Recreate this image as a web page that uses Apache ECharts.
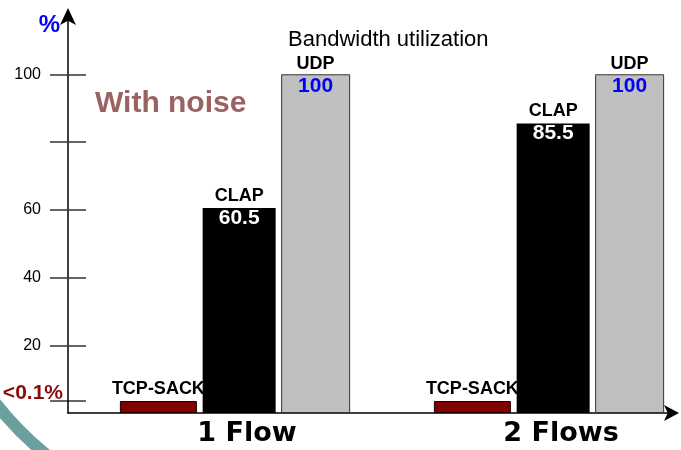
<!DOCTYPE html>
<html>
<head>
<meta charset="utf-8">
<script src="https://cdn.jsdelivr.net/npm/echarts@6/dist/echarts.min.js"></script>
<style>
  html, body { margin: 0; padding: 0; background: #fff; }
  #chart { width: 681px; height: 450px; }
</style>
</head>
<body>
<div id="chart"></div>
<script>
// Bandwidth utilization (%) per protocol, one and two flows
const flows = ['1 Flow', '2 Flows'];
const tcpSack = [0.1, 0.1];
const clap = [60.5, 85.5];
const udp = [100, 100];

// y axis ticks / labels
const yTicks = [20, 40, 60, 80, 100];
const yLabels = [20, 40, 60, 100];
const tcpNote = '<0.1%';
const yMax = 117.5;

const FONT = 'Liberation Sans, Arial, sans-serif';
const TCP_MIN_PX = 12;

const chart = echarts.init(document.getElementById('chart'), null, { renderer: 'canvas' });

// axes frame and bar area (bar area is wider so the two groups sit where they belong)
const gridAxes = { left: 68, right: 9, top: 15, bottom: 37, outerBoundsMode: 'none' };
const gridBars = { left: 78, width: 628, top: 15, bottom: 37, outerBoundsMode: 'none' };

const nameLabel = {
  fontSize: 18, fontWeight: 'bold', color: '#000', fontFamily: FONT, lineHeight: 22
};

const option = {
  backgroundColor: '#fff',
  animation: false,
  title: [
    {
      text: 'Bandwidth utilization',
      left: 288, top: 29, padding: 0,
      textStyle: { fontSize: 22, fontWeight: 'normal', color: '#000', fontFamily: FONT }
    },
    {
      text: 'With noise',
      left: 95, top: 89, padding: 0,
      textStyle: { fontSize: 30, fontWeight: 'bold', color: '#9b6262', fontFamily: FONT }
    }
  ],
  grid: [gridAxes, gridBars],
  xAxis: [
    {
      gridIndex: 0, type: 'value', min: 0, max: 1,
      axisLine: {
        show: true, lineStyle: { color: '#000', width: 1.5 },
        symbol: ['none', 'arrow'], symbolSize: [12, 15], symbolOffset: [0, 7]
      },
      axisTick: { show: false }, axisLabel: { show: false }, splitLine: { show: false }
    },
    {
      gridIndex: 1, type: 'category', data: flows,
      axisLine: { show: false }, axisTick: { show: false }, splitLine: { show: false },
      axisLabel: {
        fontSize: 27, fontWeight: 'bold', color: '#000', fontFamily: 'DejaVu Sans, sans-serif',
        margin: 7, padding: [0, 0, 0, 24]
      }
    }
  ],
  yAxis: [
    {
      gridIndex: 0, type: 'value', min: 0, max: yMax,
      name: '%', nameLocation: 'end', nameGap: -22,
      nameTextStyle: { color: '#0000ff', fontSize: 24, fontWeight: 'bold', fontFamily: FONT, align: 'right', padding: [0, 8, 0, 0] },
      axisLine: {
        show: true, lineStyle: { color: '#000', width: 1.5 },
        symbol: ['none', 'arrow'], symbolSize: [12, 17], symbolOffset: [0, 7]
      },
      axisTick: { show: true, inside: false, length: 18, customValues: yTicks, lineStyle: { color: '#333', width: 1.5 } },
      axisLabel: { show: true, customValues: yLabels, margin: 27, fontSize: 16, color: '#000', fontFamily: FONT },
      splitLine: { show: false }
    },
    {
      gridIndex: 0, type: 'value', min: 0, max: yMax, position: 'left',
      axisLine: { show: false },
      axisTick: { show: true, inside: true, length: 18, customValues: yTicks, lineStyle: { color: '#333', width: 1.5 } },
      axisLabel: { show: false }, splitLine: { show: false }
    },
    {
      gridIndex: 1, type: 'value', min: 0, max: yMax, show: false
    }
  ],
  series: [
    {
      name: 'TCP-SACK', type: 'bar', xAxisIndex: 1, yAxisIndex: 2,
      data: tcpSack, barWidth: 77, barGap: '7.5%', barMinHeight: TCP_MIN_PX,
      itemStyle: { color: '#800000', borderColor: '#1a0000', borderWidth: 1 },
      label: { show: true, position: 'top', distance: 1, formatter: '{a}', ...nameLabel }
    },
    {
      name: 'CLAP', type: 'bar', xAxisIndex: 1, yAxisIndex: 2,
      data: clap, barWidth: 73, barGap: '7.5%',
      itemStyle: { color: '#000' },
      label: {
        show: true, position: 'insideTop', distance: 0, offset: [0, -23],
        formatter: p => `{n|${p.seriesName}}\n{v|${p.value}}`,
        rich: {
          n: nameLabel,
          v: { fontSize: 21, fontWeight: 'bold', color: '#fff', fontFamily: FONT, lineHeight: 22 }
        }
      }
    },
    {
      name: 'UDP', type: 'bar', xAxisIndex: 1, yAxisIndex: 2,
      data: udp, barWidth: 69, barGap: '7.5%',
      itemStyle: { color: '#c0c0c0', borderColor: '#333', borderWidth: 1 },
      label: {
        show: true, position: 'insideTop', distance: 0, offset: [0, -21],
        formatter: p => `{n|${p.seriesName}}\n{v|${p.value}}`,
        rich: {
          n: nameLabel,
          v: { fontSize: 21, fontWeight: 'bold', color: '#0000ff', fontFamily: FONT, lineHeight: 22 }
        }
      }
    }
  ],
  graphic: [
    {
      type: 'arc', id: 'deco', z: -1, silent: true,
      shape: { cx: 258, cy: 195, r: 335, startAngle: 2.1, endAngle: 2.6 },
      style: { stroke: '#6aa09e', lineWidth: 12, fill: null }
    }
  ]
};

chart.setOption(option);

// Tick and note at the top of the TCP-SACK bars (drawn at their minimum height)
const axisX = chart.convertToPixel({ xAxisIndex: 0 }, 0);
const tickY = chart.convertToPixel({ yAxisIndex: 0 }, 0) - TCP_MIN_PX;
chart.setOption({
  graphic: [
    {
      type: 'line', id: 'tcpTick', silent: true,
      shape: { x1: axisX - 18, y1: tickY, x2: axisX + 18, y2: tickY },
      style: { stroke: '#333', lineWidth: 1.5 }
    },
    {
      type: 'text', id: 'tcpNote', silent: true,
      x: axisX - 5, y: tickY + 3,
      style: {
        text: tcpNote, fill: '#8b0c0c', fontSize: 21, fontWeight: 'bold', fontFamily: FONT,
        align: 'right', verticalAlign: 'bottom'
      }
    }
  ]
});
</script>
</body>
</html>
